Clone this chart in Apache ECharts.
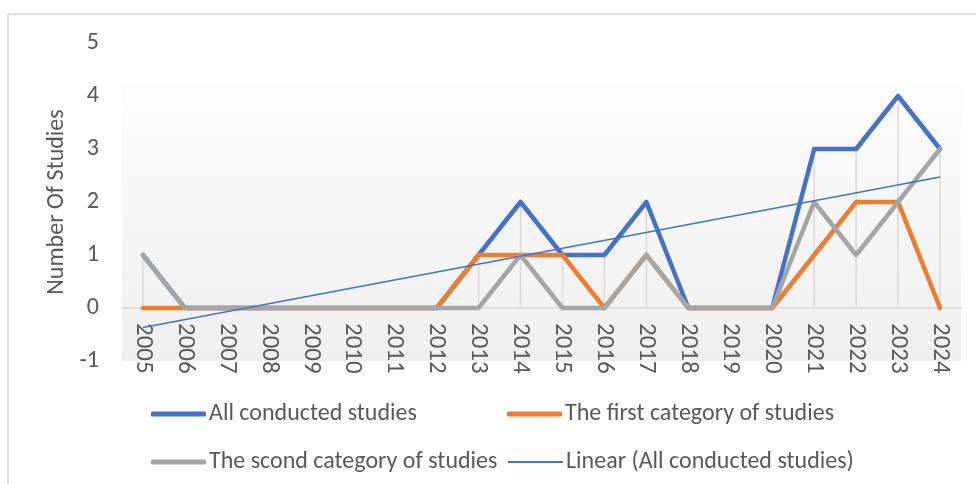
<!DOCTYPE html>
<html>
<head>
<meta charset="utf-8">
<script src="https://cdn.jsdelivr.net/npm/echarts@6/dist/echarts.min.js"></script>
<style>
html,body{margin:0;padding:0;background:#fff;}
#c{width:976px;height:484px;}
</style>
</head>
<body>
<div id="c"></div>
<script>
const years = ['2005','2006','2007','2008','2009','2010','2011','2012','2013','2014','2015','2016','2017','2018','2019','2020','2021','2022','2023','2024'];
const allStudies = [1,0,0,0,0,0,0,0,1,2,1,1,2,0,0,0,3,3,4,3];
const firstCategory = [0,0,0,0,0,0,0,0,1,1,1,0,1,0,0,0,1,2,2,0];
const secondCategory = [1,0,0,0,0,0,0,0,0,1,0,0,1,0,0,0,2,1,2,3];
// Linear trendline end values at 2005 and 2024
const trendEnds = [-0.37, 2.47];
const yTicks = [-1,0,1,2,3,4,5];

const names = ['All conducted studies','The first category of studies','The scond category of studies','Linear (All conducted studies)'];
const colors = ['#4472C4','#ED7D31','#A5A5A5','#4472C4'];

const trendData = years.map((y,i)=> i===0 ? trendEnds[0] : (i===years.length-1 ? trendEnds[1] : null));
const dropData = years.map((y,i)=> Math.max(allStudies[i], firstCategory[i], secondCategory[i]));

const FONT = 'Carlito, Calibri, Lato, sans-serif';
const chart = echarts.init(document.getElementById('c'));

function legend(i, left, top, h){
  return {
    data:[names[i]], left:left, top:top, icon:'roundRect', padding:0,
    itemWidth:55, itemHeight:h, itemGap:0,
    textStyle:{fontFamily:FONT, fontSize:24, color:'#595959', padding:[0,0,0,-2]},
    selectedMode:false
  };
}

chart.setOption({
  animation:false,
  graphic:[{type:'rect', shape:{x:8,y:14,width:1000,height:500}, style:{fill:'none', stroke:'#d9d9d9', lineWidth:1.5}, silent:true, z:-10}],
  grid:{left:122, right:15, top:43, bottom:123, show:true, borderWidth:0,
    backgroundColor: new echarts.graphic.LinearGradient(0,0,0,1,[
      {offset:0,color:'#ffffff'},{offset:0.13,color:'#ffffff'},{offset:0.131,color:'#fdfdfd'},{offset:1,color:'#efefef'}])},
  legend:[
    legend(0,151,402,5),
    legend(1,507,402,5),
    legend(2,151,450,5),
    legend(3,508,450,2)
  ],
  xAxis:{type:'category', data:years, boundaryGap:true,
    axisLine:{onZero:true, lineStyle:{color:'#d9d9d9', width:1.5}},
    axisTick:{show:false},
    axisLabel:{interval:0, rotate:-90, margin:-38, fontFamily:FONT, fontSize:25, color:'#595959'}},
  yAxis:{type:'value', min:-1, max:5, interval:1,
    name:'Number Of Studies', nameLocation:'middle', nameGap:50,
    nameTextStyle:{fontFamily:FONT, fontSize:24, color:'#595959'},
    axisLine:{show:false}, axisTick:{show:false}, splitLine:{show:false},
    axisLabel:{margin:23, fontFamily:FONT, fontSize:24, color:'#595959'}},
  series:[
    {name:'drop', type:'bar', data:dropData, barWidth:1.5, itemStyle:{color:'#d9d9d9'}, z:1, silent:true},
    {name:names[0], type:'line', data:allStudies, symbol:'none', lineStyle:{color:colors[0], width:4.5, join:'round', cap:'round'}, itemStyle:{color:colors[0]}, z:3},
    {name:names[1], type:'line', data:firstCategory, symbol:'none', lineStyle:{color:colors[1], width:4.5, join:'round', cap:'round'}, itemStyle:{color:colors[1]}, z:4},
    {name:names[2], type:'line', data:secondCategory, symbol:'none', lineStyle:{color:colors[2], width:4.5, join:'round', cap:'round'}, itemStyle:{color:colors[2]}, z:5},
    {name:names[3], type:'line', data:trendData, connectNulls:true, symbol:'none', lineStyle:{color:colors[3], width:1.5}, itemStyle:{color:colors[3]}, z:6}
  ]
});
</script>
</body>
</html>
